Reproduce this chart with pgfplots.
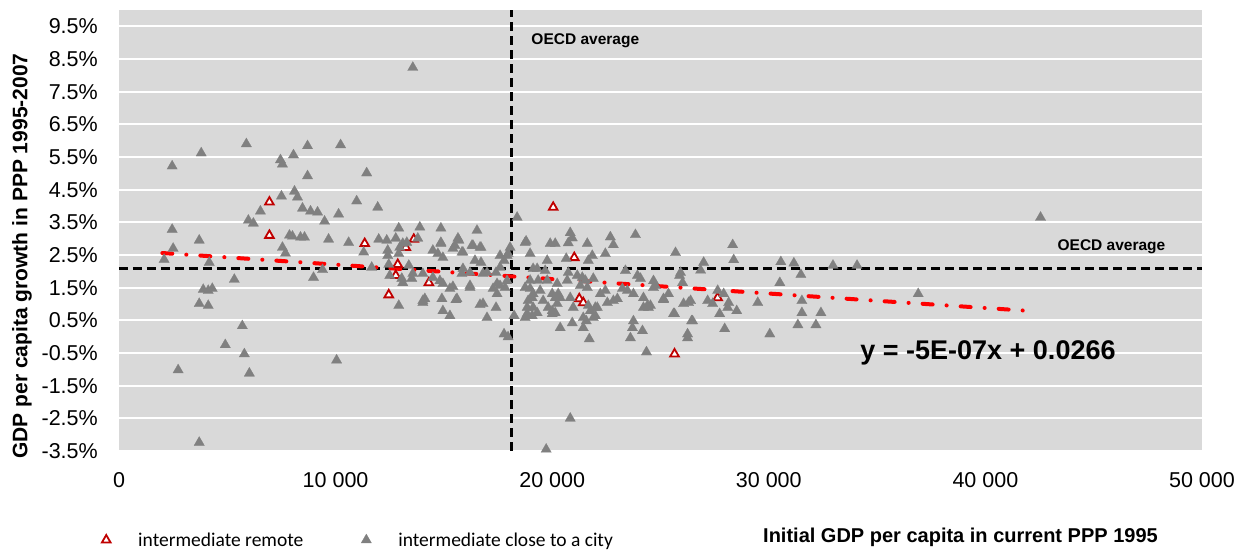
\documentclass[border=0pt]{standalone}
\usepackage{pgfplots}
\pgfplotsset{compat=1.18}
\usepackage{fontspec}
\setmainfont{Liberation Sans}
\newfontfamily\legfont{Carlito}
\definecolor{bgcol}{HTML}{D9D9D9}
\definecolor{mgray}{HTML}{808080}
\definecolor{mred}{HTML}{C00000}
\definecolor{tred}{HTML}{FF0000}
\pgfplotsset{myleg/.style={legend image code/.code={\path[draw=none,fill=none] (-6pt,-1pt) rectangle (30pt,1pt); \draw[##1] plot coordinates {(0pt,0pt)};}}}
\begin{document}
\begin{tikzpicture}
\useasboundingbox (-119pt,-100pt) rectangle (1129pt,451pt);
\begin{axis}[
  scale only axis, width=1083pt, height=441pt,
  xmin=0, xmax=50000, ymin=-3.5, ymax=10,
  axis line style={draw=none}, tick style={draw=none},
  axis background/.style={fill=bgcol},
  ymajorgrids, grid style={white, line width=2.2pt},
  ytick={-3.5,-2.5,...,9.5},
  xtick={0,10000,20000,30000,40000,50000},
  xticklabels={0,{10 000},{20 000},{30 000},{40 000},{50 000}},
  scaled x ticks=false,
  /pgf/number format/assume math mode=true,
  yticklabel={\pgfmathprintnumber[fixed,fixed zerofill,precision=1]{\tick}\%},
  tick label style={font=\fontsize{21.5}{24}\selectfont},
  yticklabel style={anchor=east, inner sep=0pt, xshift=-21pt},
  xticklabel style={anchor=north, inner sep=0pt, yshift=-21pt},
  every axis y label/.style={at={(axis description cs:-0.0896,0.442)}, rotate=90, anchor=center, font=\bfseries\fontsize{21}{24}\selectfont},
  every axis x label/.style={at={(axis description cs:0.777,-0.195)}, anchor=center, font=\bfseries\fontsize{20}{24}\selectfont},
  ylabel={GDP per capita growth in PPP 1995-2007},
  xlabel={Initial GDP per capita in current PPP 1995},
  legend columns=2,
  legend style={at={(axis description cs:-0.0175,-0.2018)}, anchor=west, draw=none, fill=none, inner sep=0pt,
    font=\legfont\fontsize{19.5}{22}\selectfont,
    /tikz/every even column/.append style={column sep=55pt}},
  legend cell align=left,
  clip=false,
]
\addplot[mred, only marks, myleg, mark=triangle*, mark size=5pt, mark options={draw=mred, fill=white, line width=1.8pt}] coordinates {
(6944,4.12) (6944,3.10) (11343,2.85) (13611,2.98) (13241,2.73) (12870,2.21) (12778,1.87)
(14306,1.65) (12454,1.28) (20046,3.96) (21019,2.42) (21250,1.16) (21435,1.04) (27639,1.19) (25648,-0.53)
};
\addlegendentry{intermediate remote}
\addplot[mgray, only marks, myleg, mark=triangle*, mark size=6pt, mark options={draw=mgray, fill=mgray, line width=0.2pt}] table {
x y
13565 8.24
2454 5.22
3796 5.62
5880 5.90
7454 5.41
7546 5.28
8056 5.56
8704 5.84
10231 5.87
8704 4.92
11435 5.01
7500 4.30
8102 4.45
8241 4.27
8472 3.93
8843 3.84
9167 3.81
9491 3.53
10139 3.75
10972 4.15
11944 3.96
6528 3.84
5972 3.56
6204 3.47
2454 3.28
3704 2.95
7870 3.10
8009 3.07
8380 3.04
8565 3.04
9676 2.98
10602 2.88
18380 3.65
12917 3.32
13889 3.35
14861 3.32
16528 3.25
11991 2.98
12361 2.95
12778 3.01
13287 2.88
13796 3.01
14861 2.88
15694 2.95
16343 2.79
16713 2.73
18796 2.92
2500 2.70
2083 2.36
4167 2.27
5324 1.75
3889 1.44
4120 1.41
4306 1.47
3704 1.01
4120 0.95
5694 0.33
4907 -0.25
5787 -0.53
2731 -1.02
6019 -1.12
10046 -0.72
3704 -3.24
7546 2.73
7685 2.55
8981 1.81
9398 2.05
11296 2.58
11667 2.12
12407 2.64
12407 2.48
12454 2.21
12500 1.87
12917 2.54
12963 2.73
13102 2.85
13380 2.18
13565 1.93
14028 1.93
13056 1.78
13102 1.65
12917 0.95
14861 2.85
14722 2.54
14954 2.42
15417 2.70
15880 2.58
15880 2.08
16204 1.96
16713 2.27
16991 1.96
14491 1.81
14815 1.71
14954 1.62
15278 1.47
15417 1.53
15602 1.16
14028 1.10
14120 1.16
14907 1.16
14954 0.79
15278 0.64
16204 1.56
16667 0.98
16991 0.58
17407 0.89
17269 1.47
17454 1.31
17593 1.56
17824 1.50
17917 1.71
17593 2.48
17963 2.54
18056 2.73
17593 2.12
17778 0.08
17963 -0.01
18241 0.64
18750 0.58
19074 0.64
18981 1.47
18889 1.10
19120 0.89
18981 2.54
18750 2.88
20833 3.18
20926 3.02
20741 2.87
22685 3.05
22824 2.81
23843 3.12
25694 2.57
28333 2.81
28380 2.35
30556 2.29
31157 2.25
31481 1.90
32963 2.18
34074 2.18
30509 1.65
31528 1.10
31528 0.73
32407 0.73
31343 0.36
32176 0.36
30046 0.08
29491 1.04
28519 0.79
28102 0.89
28148 1.04
27963 0.24
27731 0.70
27639 1.41
27917 1.31
27407 1.01
27176 1.10
26991 2.27
26852 2.03
26250 -0.04
26435 0.48
26065 1.01
26296 1.04
26389 1.10
25648 0.70
25926 1.96
26019 1.65
25880 1.87
25139 1.13
25370 1.31
24352 -0.47
24167 0.18
23704 0.27
23750 0.48
23611 -0.04
24213 1.19
24444 0.89
24213 0.89
24537 0.95
23935 1.87
24074 1.78
24676 1.71
24769 1.56
23380 2.02
23241 1.47
22454 2.54
21852 2.48
22454 1.41
22546 1.04
22824 1.10
23009 1.16
21620 2.85
21667 2.33
20833 -2.50
19722 -3.45
20370 0.27
20926 0.42
21574 0.48
21435 0.27
21713 -0.07
21991 0.64
21759 0.79
22083 0.89
20231 1.01
20139 1.19
19815 0.89
20000 0.70
18843 0.70
16806 1.01
19907 2.85
20139 2.85
16667 2.73
42546 3.65
36898 1.31
15648 3.01
15509 2.79
16296 2.79
14491 2.64
15833 2.58
16435 2.33
17917 2.48
19769 2.33
20648 2.39
13519 1.78
14028 1.04
15556 1.13
15833 1.93
16204 1.50
17454 1.62
18750 1.50
18981 1.72
19306 2.08
19120 1.31
19444 1.41
18843 0.89
19074 1.19
19306 0.73
19583 1.10
19769 1.72
20000 1.31
20000 0.79
20231 1.62
20370 1.19
20139 0.73
20694 1.72
20833 1.19
20972 0.89
21389 1.81
21620 1.50
21667 0.95
21435 0.58
21991 0.89
21898 0.58
22222 1.31
23472 1.41
23750 1.31
24398 0.95
24676 1.50
25139 1.16
25602 0.70
26481 0.48
26250 0.08
16806 1.93
17407 1.96
17778 2.33
19352 1.72
19676 2.02
20278 1.31
20741 1.96
21157 1.87
21296 1.56
21528 1.72
21898 1.78
19120 2.08
};
\addlegendentry{intermediate close to a city}
\addplot[forget plot, black, line width=3pt, dash pattern=on 9pt off 5pt] coordinates {(18144,-3.5) (18144,10)};
\addplot[forget plot, black, line width=3pt, dash pattern=on 9pt off 5pt] coordinates {(0,2.10) (50000,2.10)};
\addplot[forget plot, tred, line width=4pt, line cap=round, dash pattern=on 10pt off 14pt on 0.1pt off 14pt] coordinates {(2000,2.56) (42200,0.78)};
\node[anchor=west, font=\bfseries\fontsize{15.5}{18}\selectfont] at (axis cs:18880,9.05) {OECD average};
\node[anchor=center, font=\bfseries\fontsize{15.5}{18}\selectfont] at (axis cs:45822,2.75) {OECD average};
\node[anchor=center, font=\bfseries\fontsize{27}{30}\selectfont] at (axis cs:40120,-0.50) {y = -5E-07x + 0.0266};
\end{axis}
\end{tikzpicture}
\end{document}
